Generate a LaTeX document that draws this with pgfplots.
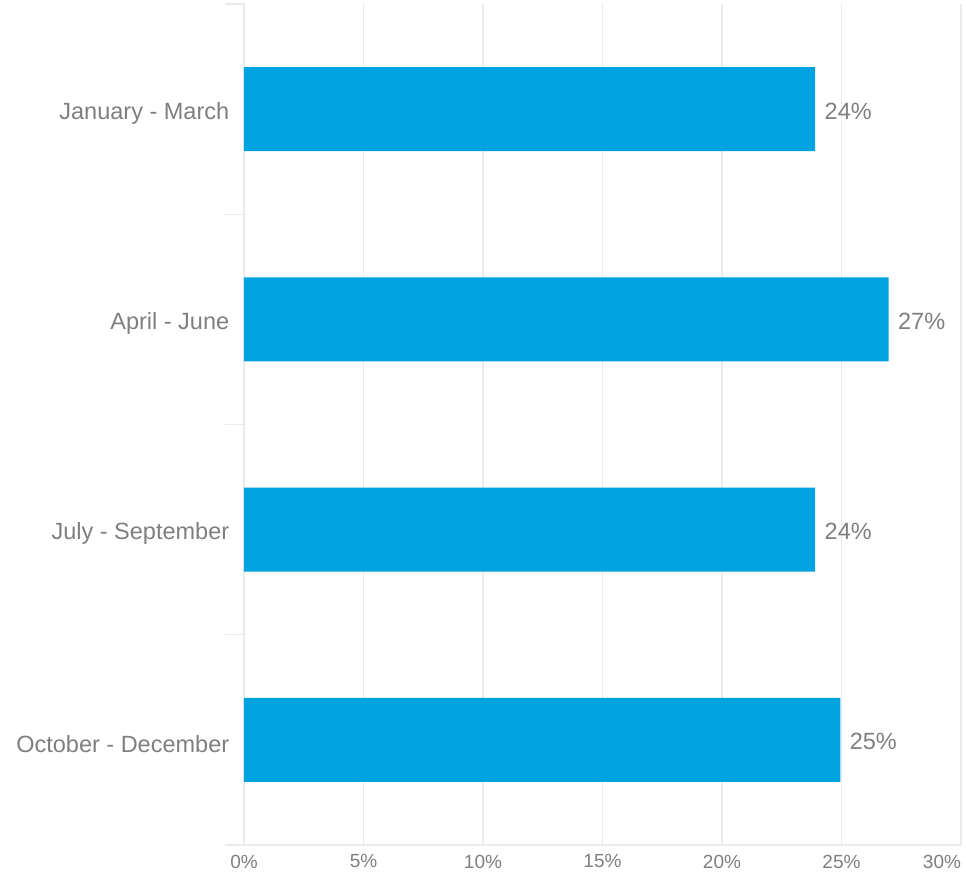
\documentclass[border=0pt]{standalone}
\usepackage{pgfplots}
\pgfplotsset{compat=1.18}
\usepackage{fontspec}
\setmainfont{Liberation Sans}
\definecolor{barblue}{HTML}{00A2E0}
\definecolor{txtgray}{HTML}{7F7F7F}
\definecolor{gridgray}{HTML}{EBEBEB}
\begin{document}
\begin{tikzpicture}
\path[use as bounding box] (-244pt,-35pt) rectangle (722pt,845pt);
\begin{axis}[
  at={(0pt,0pt)}, anchor=south west,
  scale only axis,
  width=717pt, height=841pt,
  xbar, bar width=84pt,
  xmin=0, xmax=30,
  ymin=-0.5, ymax=3.5,
  y dir=reverse,
  xtick={0,5,10,15,20,25,30},
  xticklabels={0\%,5\%,10\%,15\%,20\%,25\%,\makebox[0pt][r]{30\%}},
  ytick={0,1,2,3},
  yticklabels={January - March,April - June,July - September,October - December},
  minor ytick={-0.5,0.5,1.5,2.5,3.5},
  major y tick style={draw=none},
  minor y tick style={draw=gridgray, line width=1.2pt},
  minor tick length=19pt,
  tick align=outside,
  tick pos=left,
  major x tick style={draw=none},
  xmajorgrids,
  grid style={draw=gridgray, line width=1.2pt},
  axis x line*=bottom,
  axis y line*=left,
  axis line style={draw=gridgray, line width=1.2pt},
  x axis line style={shorten <=-19pt},
  x tick label style={font=\fontsize{19}{22}\selectfont, text=txtgray, yshift=-2pt},
  y tick label style={font=\fontsize{23.5}{26}\selectfont, text=txtgray, xshift=-7pt, yshift=-4pt},
  nodes near coords,
  point meta=explicit symbolic,
  every node near coord/.style={anchor=west, font=\fontsize{23.5}{26}\selectfont, text=txtgray, xshift=6pt, yshift=-2pt},
  clip=false,
]
\addplot[fill=barblue, draw=none] table[x=v, y=c, meta=lab] {
c v lab
0 23.9 24\%
1 26.97 27\%
2 23.9 24\%
3 24.95 25\%
};
\end{axis}
\end{tikzpicture}
\end{document}
